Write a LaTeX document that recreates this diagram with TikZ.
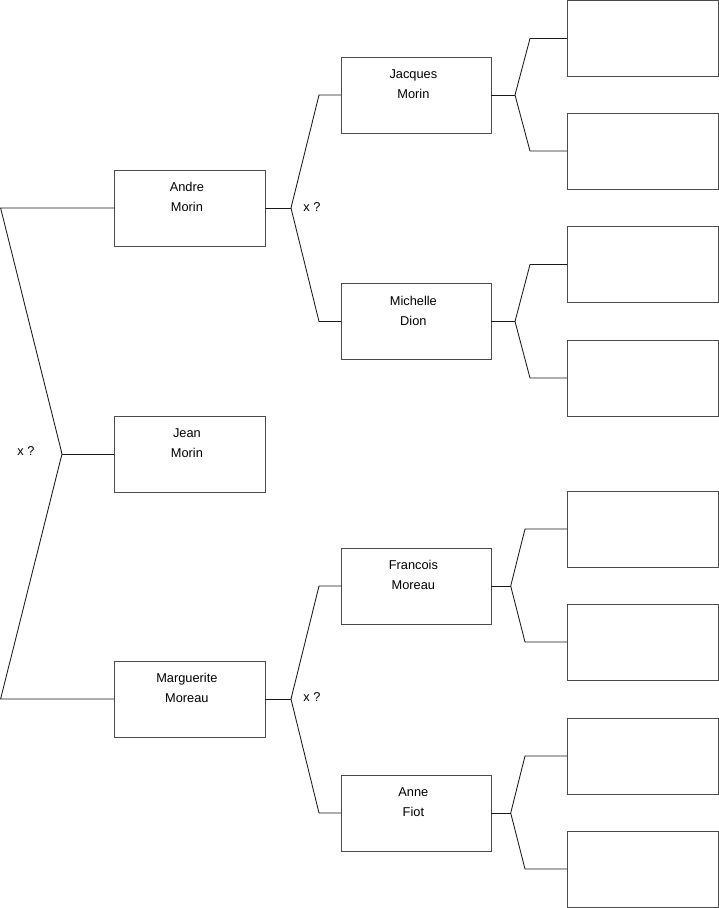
\documentclass[tikz,border=0pt]{standalone}
\usepackage{fontspec}
\setmainfont{Liberation Sans}
\begin{document}
\begin{tikzpicture}[x=1pt,y=-1pt,
  box/.style={draw=black!70,line width=0.9pt,minimum width=151pt,minimum height=76pt,inner sep=0pt,outer sep=0pt},
  mbox/.style={box,minimum width=150pt},
  who/.style={label={[anchor=north,xshift=-2.6pt,yshift=-12.4pt,align=center,inner sep=0pt,font=\fontsize{12.8}{20}\selectfont]north:{#1}}},
  conn/.style={draw=black!90,line width=0.85pt},
  qlab/.style={font=\fontsize{12.8}{15}\selectfont,inner sep=0pt}]
\useasboundingbox (0,0) rectangle (719,908);
% left column
\node[box,who={Andre\\Morin}] (andre) at (189.5,208) {};
\node[box,who={Jean\\Morin}] (jean) at (189.5,454) {};
\node[box,who={Marguerite\\Moreau}] (marg) at (189.5,699) {};
% middle column
\node[mbox,who={Jacques\\Morin}] (jacq) at (416,95) {};
\node[mbox,who={Michelle\\Dion}] (mich) at (416,321.5) {};
\node[mbox,who={Francois\\Moreau}] (fran) at (416,586) {};
\node[mbox,who={Anne\\Fiot}] (anne) at (416,813) {};
% right column
\node[box] (r1) at (642.5,38.5) {};
\node[box] (r2) at (642.5,151) {};
\node[box] (r3) at (642.5,264.5) {};
\node[box] (r4) at (642.5,378) {};
\node[box] (r5) at (642.5,529) {};
\node[box] (r6) at (642.5,642) {};
\node[box] (r7) at (642.5,756) {};
\node[box] (r8) at (642.5,869) {};
% labels
\node[qlab] (q1) at (26,451.5) {x ?};
\node[qlab] (q2) at (312,207) {x ?};
\node[qlab] (q3) at (312,697.5) {x ?};
% coordinates
\coordinate (L1) at (0.6,208);
\coordinate (Lm) at (62,454);
\coordinate (L3) at (0.6,699);
\coordinate (A0) at (291,208);
\coordinate (A1) at (319,95);
\coordinate (A2) at (319,321.5);
\coordinate (M0) at (291,699);
\coordinate (M1) at (319,586);
\coordinate (M2) at (319,813);
\coordinate (J0) at (515,95);
\coordinate (J1) at (530,38.5);
\coordinate (J2) at (530,151);
\coordinate (D0) at (515,321.5);
\coordinate (D1) at (530,264.5);
\coordinate (D2) at (530,378);
\coordinate (F0) at (510.7,586);
\coordinate (F1) at (525,529);
\coordinate (F2) at (525,642);
\coordinate (N0) at (510.7,813);
\coordinate (N1) at (525,756);
\coordinate (N2) at (525,869);
% connectors
\draw[conn] (andre.west) -- (L1) -- (Lm) -- (L3) -- (marg.west);
\draw[conn] (Lm) -- (jean.west);
\draw[conn] (andre.east) -- (A0);
\draw[conn] (jacq.west) -- (A1) -- (A0) -- (A2) -- (mich.west);
\draw[conn] (marg.east) -- (M0);
\draw[conn] (fran.west) -- (M1) -- (M0) -- (M2) -- (anne.west);
\draw[conn] (jacq.east) -- (J0);
\draw[conn] (r1.west) -- (J1) -- (J0) -- (J2) -- (r2.west);
\draw[conn] (mich.east) -- (D0);
\draw[conn] (r3.west) -- (D1) -- (D0) -- (D2) -- (r4.west);
\draw[conn] (fran.east) -- (F0);
\draw[conn] (r5.west) -- (F1) -- (F0) -- (F2) -- (r6.west);
\draw[conn] (anne.east) -- (N0);
\draw[conn] (r7.west) -- (N1) -- (N0) -- (N2) -- (r8.west);
\end{tikzpicture}
\end{document}
